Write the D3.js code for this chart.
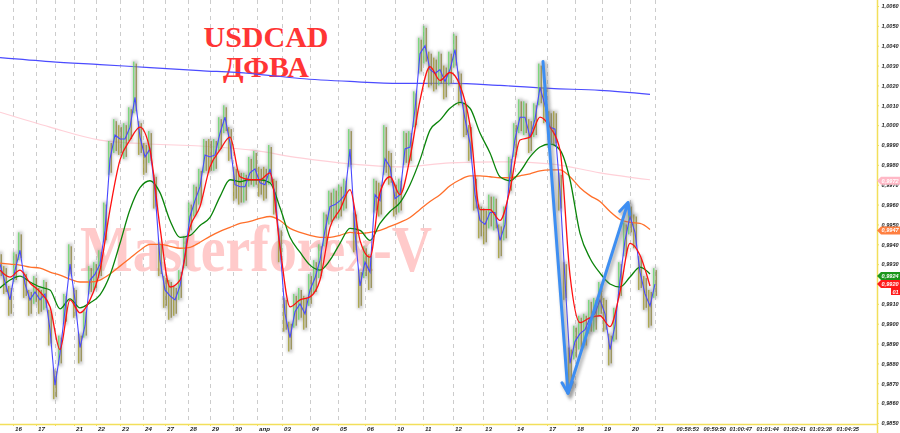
<!DOCTYPE html>
<html><head><meta charset="utf-8">
<script src="https://cdn.jsdelivr.net/npm/d3@7"></script>
<style>body{margin:0;background:#fff}svg{display:block}</style>
</head><body>
<svg id="c" width="900" height="433"></svg>
<script>
// ---- DATA ----
const closes = [
0.9930,0.9921,0.9912,0.9927,0.9937,0.9920,0.9912,0.9916,0.9912,0.9915,
0.9897,0.9869,0.9885,0.9907,0.9930,0.9912,0.9888,0.9899,0.9922,0.9925,
0.9930,0.9947,0.9983,0.9995,0.9993,0.9993,0.9999,1.0014,0.9994,0.9984,
0.9988,0.9967,0.9932,0.9917,0.9914,0.9912,0.9919,0.9935,0.9954,0.9962,
0.9969,0.9985,0.9984,0.9985,0.9996,1.0004,0.9991,0.9970,0.9969,0.9969,
0.9976,0.9978,0.9971,0.9970,0.9978,0.9965,0.9939,0.9905,0.9893,0.9906,
0.9910,0.9905,0.9917,0.9923,0.9932,0.9947,0.9959,0.9960,0.9962,0.9965,
0.9988,0.9946,0.9919,0.9931,0.9926,0.9965,0.9962,0.9983,0.9979,0.9963,
0.9965,0.9988,0.9989,1.0008,1.0036,1.0040,1.0028,1.0026,1.0028,1.0022,
1.0028,1.0038,1.0018,1.0003,0.9991,0.9965,0.9952,0.9950,0.9956,0.9956,
0.9942,0.9950,0.9975,0.9993,1.0004,1.0004,0.9994,1.0003,1.0019,1.0010,
0.9999,0.9998,0.9967,0.9922,0.9880,0.9891,0.9895,0.9897,0.9903,0.9905,
0.9912,0.9905,0.9887,0.9899,0.9922,0.9942,0.9954,0.9946,0.9926,0.9915,
0.9909,0.9920];
const highs = [
0.9936,0.9929,0.9919,0.9936,0.9946,0.9926,0.9917,0.9924,0.9918,0.9922,
0.9907,0.9877,0.9894,0.9915,0.9940,0.9918,0.9895,0.9907,0.9929,0.9931,
0.9937,0.9961,0.9992,1.0003,1.0000,1.0001,1.0009,1.0032,1.0002,0.9991,
0.9997,0.9975,0.9941,0.9924,0.9922,0.9919,0.9927,0.9944,0.9961,0.9970,
0.9978,0.9993,0.9993,0.9993,1.0004,1.0010,0.9999,0.9979,0.9977,0.9976,
0.9984,0.9987,0.9979,0.9979,0.9990,0.9973,0.9948,0.9913,0.9901,0.9915,
0.9918,0.9914,0.9925,0.9932,0.9940,0.9956,0.9967,0.9968,0.9970,0.9973,
0.9998,0.9956,0.9927,0.9939,0.9935,0.9973,0.9971,1.0000,0.9987,0.9971,
0.9973,0.9997,0.9997,1.0017,1.0044,1.0050,1.0037,1.0034,1.0037,1.0030,
1.0037,1.0046,1.0027,1.0011,1.0000,0.9974,0.9960,0.9958,0.9965,0.9964,
0.9950,0.9959,0.9984,1.0001,1.0013,1.0012,1.0003,1.0011,1.0031,1.0019,
1.0007,1.0007,0.9976,0.9931,0.9888,0.9899,0.9904,0.9905,0.9912,0.9913,
0.9921,0.9913,0.9895,0.9908,0.9931,0.9951,0.9960,0.9955,0.9934,0.9924,
0.9917,0.9928];
const lows = [
0.9923,0.9915,0.9904,0.9921,0.9932,0.9913,0.9904,0.9910,0.9905,0.9907,
0.9889,0.9862,0.9879,0.9900,0.9924,0.9903,0.9880,0.9893,0.9915,0.9917,
0.9923,0.9941,0.9975,0.9986,0.9985,0.9983,0.9992,1.0006,0.9985,0.9975,
0.9981,0.9958,0.9924,0.9908,0.9902,0.9904,0.9912,0.9928,0.9946,0.9954,
0.9960,0.9976,0.9976,0.9977,0.9987,0.9996,0.9982,0.9962,0.9960,0.9961,
0.9969,0.9969,0.9964,0.9962,0.9970,0.9955,0.9931,0.9896,0.9886,0.9898,
0.9902,0.9897,0.9909,0.9915,0.9923,0.9939,0.9950,0.9952,0.9953,0.9957,
0.9979,0.9936,0.9908,0.9923,0.9917,0.9956,0.9954,0.9975,0.9970,0.9954,
0.9956,0.9980,0.9981,0.9999,1.0026,1.0031,1.0019,1.0017,1.0020,1.0013,
1.0020,1.0029,1.0010,0.9994,0.9982,0.9957,0.9943,0.9940,0.9948,0.9947,
0.9933,0.9942,0.9966,0.9984,0.9996,0.9995,0.9986,0.9994,1.0010,1.0001,
0.9990,0.9990,0.9957,0.9912,0.9868,0.9882,0.9887,0.9888,0.9895,0.9896,
0.9904,0.9896,0.9879,0.9891,0.9913,0.9934,0.9945,0.9938,0.9917,0.9907,
0.9898,0.9913];
// moving averages sampled every 2nd bar
const maRed = [
0.99270,0.99235,0.99270,0.99205,0.99160,0.99085,0.98870,0.99120,0.99055,0.99120,
0.99270,0.99575,0.99825,0.99925,0.99990,0.99875,0.99485,0.99185,0.99220,0.99485,
0.99590,0.99790,0.99875,0.99940,0.99740,0.99725,0.99725,0.99760,0.99385,0.99085,
0.99120,0.99135,0.99220,0.99485,0.99575,0.99675,0.99420,0.99335,0.99660,0.99740,
0.99650,0.99835,1.00125,1.00295,1.00225,1.00265,1.00200,1.00000,0.99575,0.99575,
0.99520,0.99675,0.99925,0.99940,1.00040,0.99990,0.99875,0.99245,0.99005,0.99030,
0.99040,0.98985,0.99160,0.99405,0.99345,0.99190];
const maGreen = [
0.99180,0.99220,0.99240,0.99210,0.99185,0.99170,0.99075,0.99125,0.99080,0.99105,
0.99145,0.99245,0.99405,0.99575,0.99685,0.99720,0.99660,0.99520,0.99435,0.99445,
0.99495,0.99535,0.99640,0.99725,0.99715,0.99725,0.99725,0.99710,0.99585,0.99435,
0.99360,0.99295,0.99270,0.99320,0.99405,0.99480,0.99470,0.99420,0.99505,0.99565,
0.99610,0.99700,0.99825,0.99975,1.00025,1.00085,1.00115,1.00085,0.99960,0.99860,
0.99740,0.99720,0.99765,0.99840,0.99890,0.99905,0.99875,0.99725,0.99455,0.99330,
0.99255,0.99200,0.99185,0.99235,0.99285,0.99250];
const maOrange = [
0.99305,0.99300,0.99295,0.99285,0.99280,0.99260,0.99245,0.99225,0.99210,0.99210,
0.99220,0.99250,0.99290,0.99330,0.99370,0.99400,0.99400,0.99390,0.99380,0.99385,
0.99410,0.99440,0.99465,0.99485,0.99505,0.99515,0.99530,0.99540,0.99520,0.99480,
0.99460,0.99445,0.99435,0.99435,0.99445,0.99460,0.99455,0.99460,0.99470,0.99490,
0.99510,0.99535,0.99575,0.99615,0.99650,0.99695,0.99725,0.99745,0.99745,0.99740,
0.99735,0.99735,0.99745,0.99755,0.99770,0.99775,0.99775,0.99740,0.99685,0.99645,
0.99615,0.99565,0.99525,0.99510,0.99505,0.99475];
// slow averages sampled every 10th bar
const maPink = [1.00065,0.99990,0.99925,0.99905,0.99895,0.99875,0.99835,0.99805,0.99790,0.99810,0.99815,0.99805,0.99760,0.99725];
const maBlue = [1.00340,1.00320,1.00305,1.00290,1.00275,1.00260,1.00235,1.00220,1.00210,1.00210,1.00200,1.00185,1.00175,1.00155];

const priceTicks = [0.9850,0.9860,0.9870,0.9880,0.9890,0.9900,0.9910,0.9920,0.9930,0.9940,0.9950,0.9960,0.9970,0.9980,0.9990,1.0000,1.0010,1.0020,1.0030,1.0040,1.0050,1.0060];
const dateIdx = [2.6,7.2,11,14.8,19.2,24,28.6,33,37.6,42,46.6,51.4,56.4,62,67.6,73,79,84.6,90.6,96.6,103,109.4,115,120.4,126,131];
const dateLabels = ["16","17","","21","22","23","24","27","28","29","30","апр","03","04","05","06","10","11","12","13","14","17","18","19","20","21"];
const timeIdx = [135.2,140.6,145.8,151.2,156.6,161.8,167.2];
const timeLabels = ["00:58:53","00:59:50","01:00:47","01:01:44","01:02:41","01:03:38","01:04:35"];
const lastLabels = [
  {v:0.9972, text:"0,9972", color:"#ffb8c6"},
  {v:0.9947, text:"0,9947", color:"#ff7f40"},
  {v:0.9924, text:"0,9924", color:"#1a961a"},
  {v:0.9920, text:"0,9920", color:"#ff1a1a"}
];
const arrows = [
  {i0:108.6, p0:1.0032, i1:113.6, p1:0.9865},
  {i0:113.6, p0:0.9865, i1:125.6, p1:0.9961}
];

// ---- SCALES ----
const x = d3.scaleLinear().domain([0,131]).range([0,655]);
const y = d3.scaleLinear().domain([0.9850,1.0060]).range([423,6]);
const svg = d3.select('#c');

const defs = svg.append('defs');
defs.append('filter').attr('id','blur').attr('x','-50%').attr('y','-50%').attr('width','200%').attr('height','200%')
  .append('feGaussianBlur').attr('stdDeviation',1.6);

// grid
svg.append('g').selectAll('line').data(dateIdx).join('line')
  .attr('x1',d=>Math.round(x(d))+0.5).attr('x2',d=>Math.round(x(d))+0.5)
  .attr('y1',0).attr('y2',424).attr('stroke','#cccccc').attr('stroke-dasharray','4,4');

// watermark
svg.append('text').attr('x',80).attr('y',271).text('Masterforex-V')
  .attr('font-family','Liberation Serif, serif').attr('font-weight','bold')
  .attr('font-size',66).attr('textLength',352).attr('lengthAdjust','spacingAndGlyphs')
  .attr('fill','#ffcaca');

// title
const tg = svg.append('g').attr('font-family','Liberation Serif, serif').attr('font-weight','bold')
  .attr('font-size',30).attr('fill','#ff3535').attr('text-anchor','middle');
tg.append('text').attr('x',266).attr('y',47).text('USDCAD');
tg.append('text').attr('x',266).attr('y',77).text('ДФВА');

const lineOf = (arr, step, curve) => d3.line()
  .x((d,i)=>x(i*step)).y(d=>y(d)).curve(curve||d3.curveMonotoneX)(arr);

// slow lines
svg.append('path').attr('d',lineOf(maBlue,10)).attr('fill','none').attr('stroke','#4b4bff').attr('stroke-width',1.2);
svg.append('path').attr('d',lineOf(maPink,10)).attr('fill','none').attr('stroke','#ffd0d8').attr('stroke-width',1.2);

// bars
const gb = svg.append('g');
gb.append('g').attr('filter','url(#blur)').selectAll('line').data(closes).join('line')
  .attr('x1',(d,i)=>x(i)).attr('x2',(d,i)=>x(i))
  .attr('y1',(d,i)=>y(highs[i])-1).attr('y2',(d,i)=>y(lows[i])+1)
  .attr('stroke','#a0a0a0').attr('stroke-width',6).attr('opacity',0.5);
gb.append('g').selectAll('line').data(closes).join('line')
  .attr('x1',(d,i)=>x(i)-1.2).attr('x2',(d,i)=>x(i)-1.2)
  .attr('y1',(d,i)=>y(highs[i])).attr('y2',(d,i)=>y(lows[i]))
  .attr('stroke',(d,i)=> i>0 && d>=closes[i-1] ? '#58d858' : '#9a9418').attr('stroke-width',1);
gb.append('g').selectAll('line').data(closes).join('line')
  .attr('x1',(d,i)=>x(i)+1.2).attr('x2',(d,i)=>x(i)+1.2)
  .attr('y1',(d,i)=>y(highs[i])+2).attr('y2',(d,i)=>y(lows[i])-2)
  .attr('stroke','#857a2a').attr('stroke-width',1);

// moving averages
svg.append('path').attr('d',lineOf(maOrange,2)).attr('fill','none').attr('stroke','#ff6f2a').attr('stroke-width',1.3);
svg.append('path').attr('d',lineOf(maGreen,2)).attr('fill','none').attr('stroke','#0a840a').attr('stroke-width',1.3);
// price line
svg.append('path').attr('d',lineOf(closes,1,d3.curveLinear)).attr('fill','none').attr('stroke','#4848ff').attr('stroke-width',1.1);
svg.append('path').attr('d',lineOf(maRed,2)).attr('fill','none').attr('stroke','#ff1010').attr('stroke-width',1.3);

// arrows
const ag = svg.append('g').attr('stroke-linecap','round');
arrows.forEach(a=>{
  const X0=x(a.i0),Y0=y(a.p0),X1=x(a.i1),Y1=y(a.p1);
  const ang=Math.atan2(Y1-Y0,X1-X0), L=12, sp=0.45;
  const head=`M${X1-L*Math.cos(ang-sp)},${Y1-L*Math.sin(ang-sp)}L${X1},${Y1}L${X1-L*Math.cos(ang+sp)},${Y1-L*Math.sin(ang+sp)}`;
  const body=`M${X0},${Y0}L${X1},${Y1}`;
  ag.append('path').attr('d',body+head).attr('fill','none').attr('stroke','#777').attr('stroke-width',5)
    .attr('opacity',0.45).attr('filter','url(#blur)').attr('transform','translate(2,2)');
  ag.append('path').attr('d',body+head).attr('fill','none').attr('stroke','#3d8ef2').attr('stroke-width',3).attr('stroke-linejoin','round');
});

// axes
const axColor = '#f2df5a';
svg.append('line').attr('x1',877.5).attr('x2',877.5).attr('y1',0).attr('y2',433).attr('stroke',axColor).attr('stroke-width',1.5);
svg.append('line').attr('x1',0).attr('x2',877).attr('y1',424.5).attr('y2',424.5).attr('stroke',axColor).attr('stroke-width',1.5);

const fontTick = g => g.selectAll('text').attr('font-family','Liberation Sans, Arial, sans-serif')
    .attr('font-style','italic').attr('font-weight','bold').attr('font-size','5.6px').attr('fill','#222');

const ra = svg.append('g').attr('transform','translate(877,0)')
  .call(d3.axisRight(y).tickValues(priceTicks).tickSize(2).tickPadding(2.5)
    .tickFormat(d=>d.toFixed(4).replace('.',',')));
ra.select('.domain').remove();
ra.selectAll('line').attr('stroke',axColor);
fontTick(ra);

const ba = svg.append('g').attr('transform','translate(0,424)')
  .call(d3.axisBottom(x).tickValues(dateIdx).tickSize(2).tickPadding(1)
    .tickFormat((d,i)=>dateLabels[i]));
ba.select('.domain').remove();
ba.selectAll('line').attr('stroke',axColor);
ba.selectAll('text').attr('text-anchor','start').attr('dx','1.5');
fontTick(ba);
ba.selectAll('text').attr('font-size','6.2px');

const ta = svg.append('g').attr('transform','translate(0,424)')
  .call(d3.axisBottom(x).tickValues(timeIdx).tickSize(0).tickPadding(3)
    .tickFormat((d,i)=>timeLabels[i]));
ta.select('.domain').remove();
ta.selectAll('text').attr('text-anchor','start');
fontTick(ta);

// last value labels
const lg = svg.append('g');
lastLabels.forEach(l=>{
  const yy = y(l.v);
  lg.append('path').attr('d',`M877,${yy}L881,${yy-4}L900,${yy-4}L900,${yy+4}L881,${yy+4}Z`).attr('fill',l.color);
  lg.append('text').attr('x',881.5).attr('y',yy+2.1).text(l.text)
    .attr('font-family','Liberation Sans, Arial, sans-serif').attr('font-style','italic').attr('font-weight','bold')
    .attr('font-size','5.6px').attr('fill','#fff');
});
const yl = y(lastLabels[3].v);
lg.append('rect').attr('x',891).attr('y',yl+4).attr('width',9).attr('height',7).attr('fill','#ff1a1a');
lg.append('text').attr('x',892.5).attr('y',yl+9.5).text('01')
  .attr('font-family','Liberation Sans, Arial, sans-serif').attr('font-style','italic').attr('font-weight','bold')
  .attr('font-size','5.6px').attr('fill','#fff');
</script>
</body></html>
